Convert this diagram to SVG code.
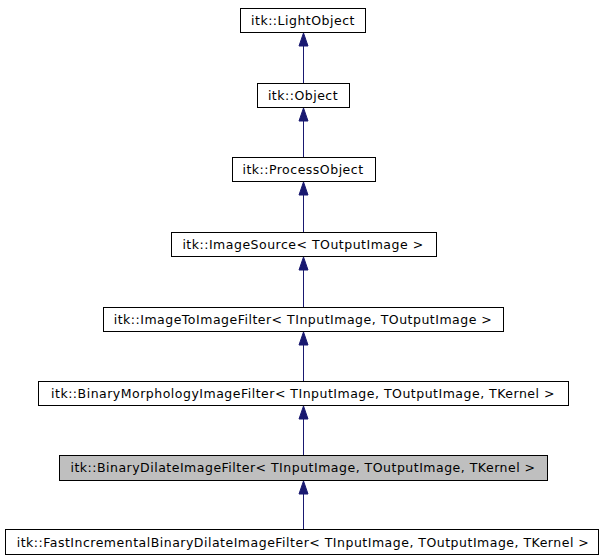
<svg xmlns="http://www.w3.org/2000/svg" width="605" height="560" viewBox="0 0 605 560">
<style>
.b{fill:#fff;stroke:#000;stroke-width:1}
.g{fill:#bfbfbf;stroke:#000;stroke-width:1}
text{font-family:"DejaVu Sans",sans-serif;font-size:12.5px;letter-spacing:0.5px;fill:#000;text-anchor:middle}
.e{stroke:#191970;stroke-width:1;fill:none}
.h{fill:#191970;stroke:#191970}
</style>
<rect width="605" height="560" fill="#fff"/>
<g id="connectors">
<path class="e" d="M303.5 45V83"/><path class="h" d="M303.5 33L299 46H308Z"/>
<path class="e" d="M303.5 120V157"/><path class="h" d="M303.5 108L299 121H308Z"/>
<path class="e" d="M303.5 194V232"/><path class="h" d="M303.5 182L299 195H308Z"/>
<path class="e" d="M303.5 269V307"/><path class="h" d="M303.5 257L299 270H308Z"/>
<path class="e" d="M303.5 344V381"/><path class="h" d="M303.5 332L299 345H308Z"/>
<path class="e" d="M303.5 418V455"/><path class="h" d="M303.5 406L299 419H308Z"/>
<path class="e" d="M303.5 493V529"/><path class="h" d="M303.5 481L299 494H308Z"/>
</g>
<g id="n1"><rect class="b" x="240.5" y="8.5" width="125" height="24"/><text x="303" y="25">itk::LightObject</text></g>
<g id="n2"><rect class="b" x="257.5" y="83.5" width="92" height="24"/><text x="303" y="100">itk::Object</text></g>
<g id="n3"><rect class="b" x="232.5" y="157.5" width="143" height="24"/><text x="303" y="174">itk::ProcessObject</text></g>
<g id="n4"><rect class="b" x="171.5" y="232.5" width="265" height="24"/><text x="303" y="249">itk::ImageSource&lt; TOutputImage &gt;</text></g>
<g id="n5"><rect class="b" x="103.5" y="307.5" width="400" height="24"/><text x="303" y="324">itk::ImageToImageFilter&lt; TInputImage, TOutputImage &gt;</text></g>
<g id="n6"><rect class="b" x="38.5" y="381.5" width="530" height="24"/><text x="303" y="398">itk::BinaryMorphologyImageFilter&lt; TInputImage, TOutputImage, TKernel &gt;</text></g>
<g id="n7"><rect class="g" x="59.5" y="455.5" width="488" height="25"/><text x="303" y="472">itk::BinaryDilateImageFilter&lt; TInputImage, TOutputImage, TKernel &gt;</text></g>
<g id="n8"><rect class="b" x="5.5" y="529.5" width="593" height="25"/><text x="303" y="547">itk::FastIncrementalBinaryDilateImageFilter&lt; TInputImage, TOutputImage, TKernel &gt;</text></g>
</svg>
